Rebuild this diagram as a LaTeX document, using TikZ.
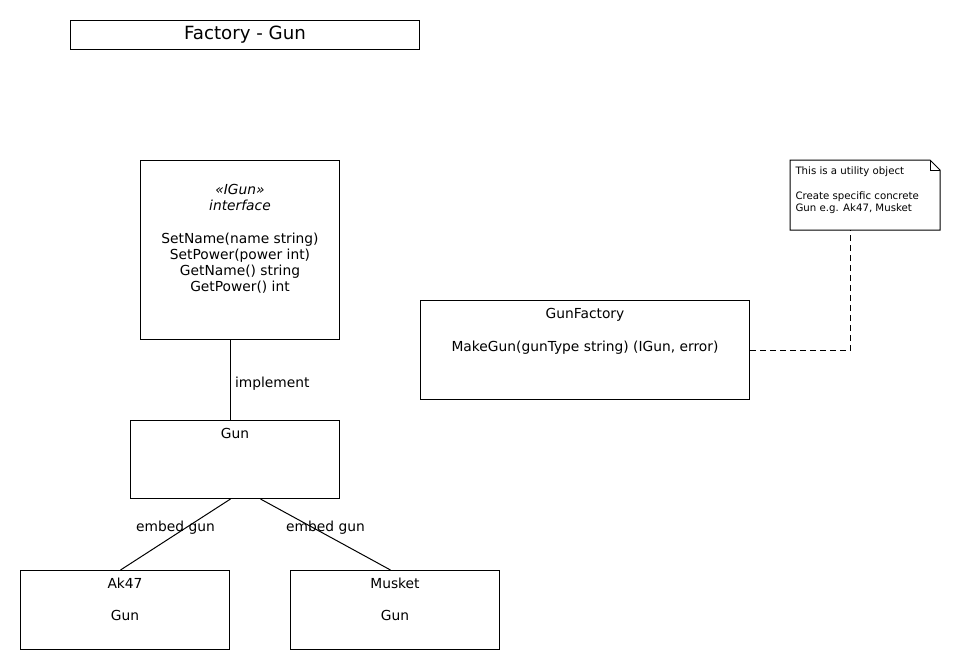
\documentclass[tikz,border=0pt]{standalone}
\usepackage{fontspec}
\setmainfont{DejaVu Sans}
\usetikzlibrary{positioning}
\tikzset{
  uml diagram/.style={
    x=1pt, y=-1pt,
    line width=1pt,
    font=\fontsize{13.8}{16}\selectfont
  },
  titlebox/.style={
    draw,
    anchor=north west,
    minimum width=349pt,
    minimum height=29pt,
    inner sep=0pt,
    font=\fontsize{18.2}{22}\selectfont
  },
  classbox/.style={draw, anchor=north west, inner sep=0pt},
  classtext/.style={align=center, inner sep=0pt},
  notebox/.style={
    anchor=north west,
    inner sep=0pt,
    minimum width=149pt,
    minimum height=69pt
  },
  notetext/.style={align=left, inner sep=0pt, font=\fontsize{10.2}{12.5}\selectfont},
  linkline/.style={draw, line width=1pt},
  notelink/.style={draw, line width=1pt, dash pattern=on 6pt off 4pt},
  linklabel/.style={inner sep=0pt}
}

\begin{document}
\begin{tikzpicture}[uml diagram]
\useasboundingbox (0,0) rectangle (960,670);
\node[titlebox] (title) at (70,20) {Factory - Gun};
% classes
\node[classbox, minimum width=199pt, minimum height=179pt] (igun) at (140,160) {};
\node[classtext, below=24pt of igun.north] (iguntext) {\textit{«IGun»}\\\textit{interface}\\[17pt]SetName(name string)\\SetPower(power int)\\GetName() string\\GetPower() int};
\node[classbox, minimum width=209pt, minimum height=78pt] (gun) at (130,420) {};
\node[classtext, below=8pt of gun.north] (guntext) {Gun};
\node[classbox, minimum width=209pt, minimum height=79pt] (ak) at (20,570) {};
\node[classtext, below=8pt of ak.north] (aktext) {Ak47\\[16pt]Gun};
\node[classbox, minimum width=209pt, minimum height=79pt] (musket) at (290,570) {};
\node[classtext, below=8pt of musket.north] (muskettext) {Musket\\[16pt]Gun};
\node[classbox, minimum width=329pt, minimum height=99pt] (factory) at (420,300) {};
\node[classtext, below=8pt of factory.north] (factorytext) {GunFactory\\[17pt]MakeGun(gunType string) (IGun, error)};
% note
\node[notebox] (note) at (790,160) {};
\draw (note.north west) -- ([xshift=-10pt]note.north east) -- ([yshift=-10pt]note.north east)
  -- (note.south east) -- (note.south west) -- cycle;
\draw ([xshift=-10pt]note.north east) -- ([xshift=-10pt,yshift=-10pt]note.north east)
  -- ([yshift=-10pt]note.north east);
\node[notetext, below right=6pt and 5pt of note.north west] (notetxt) {This is a utility object\\[12.5pt]Create specific concrete\\Gun e.g. Ak47, Musket};
% links
\draw[linkline] ([xshift=-9.5pt]igun.south) -- node[linklabel, midway, right=4pt, yshift=-4pt] {implement} ([xshift=-4.5pt]gun.north);
\draw[linkline] ([xshift=-4.5pt]gun.south) -- node[linklabel, midway, yshift=7pt] {embed gun} ([xshift=-4.5pt]ak.north);
\draw[linkline] ([xshift=25.5pt]gun.south) -- node[linklabel, midway, yshift=7pt] {embed gun} ([xshift=-4.5pt]musket.north);
\draw[notelink] (factory.east) -| ([xshift=-14.5pt]note.south);
\end{tikzpicture}
\end{document}
